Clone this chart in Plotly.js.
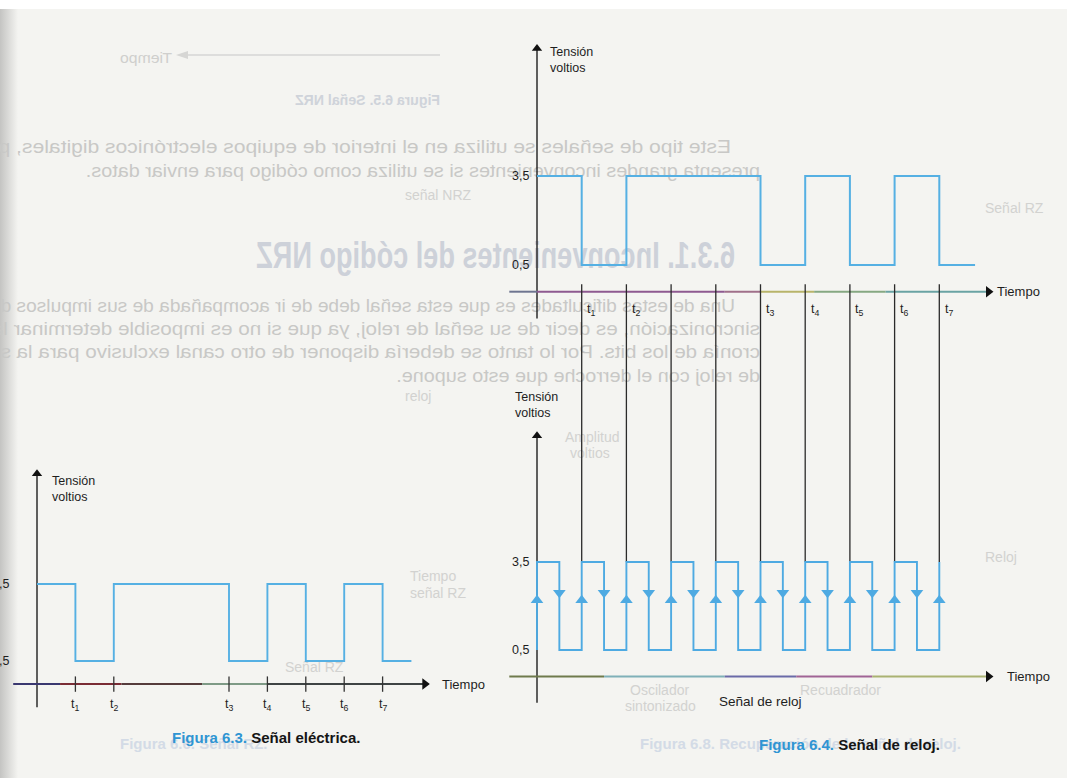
<!DOCTYPE html>
<html><head><meta charset="utf-8">
<script src="https://cdn.plot.ly/plotly-3.0.1.min.js"></script>
<style>
html,body{margin:0;padding:0;background:#f4f4f1;width:1067px;height:778px;overflow:hidden;}
#bg{position:absolute;left:0;top:0;width:1067px;height:778px;z-index:0;}
#plot{position:absolute;left:0;top:0;width:1067px;height:778px;z-index:2;}
</style></head><body>
<svg id="bg" width="1067" height="778" xmlns="http://www.w3.org/2000/svg"></svg>
<div id="plot"></div>
<script>
// ---------------- DATA ----------------
const BITS = [1, 0, 1, 1, 1, 0, 1, 0, 1, 0];          // NRZ bit levels per period
const BIT_TIMES = [0, 1, 2, 3, 4, 5, 6, 7, 8, 9];     // start of each bit period
const SIGNAL_END_63 = 9.75;                           // Fig 6.3 signal end
const SIGNAL_END_64 = 9.8;                            // Fig 6.4 signal end
const HIGH = 3.5, LOW = 0.5;                          // volts
const TICK_TIMES = [1, 2, 5, 6, 7, 8, 9];
const TICK_LABELS = ['t<sub>1</sub>', 't<sub>2</sub>', 't<sub>3</sub>', 't<sub>4</sub>', 't<sub>5</sub>', 't<sub>6</sub>', 't<sub>7</sub>'];
const GUIDE_TIMES = [1, 2, 3, 4, 5, 6, 7, 8, 9];      // vertical guide lines of Fig 6.4
const CLOCK_RISE = [0, 1, 2, 3, 4, 5, 6, 7, 8, 9];
const CLOCK_FALL = [0.5, 1.5, 2.5, 3.5, 4.5, 5.5, 6.5, 7.5, 8.5];
const Y_TICK_VALUES = [3.5, 0.5];
const Y_TICK_LABELS = ['3,5', '0,5'];

// ---------------- LAYOUT HELPERS ----------------
const W = 1067, H = 778;
function xRange(pxA, vA, pxB, vB) { const s = (pxB - pxA) / (vB - vA); return [vA + (0 - pxA) / s, vA + (W - pxA) / s]; }
function yRange(pxA, vA, pxB, vB) { const s = (pxB - pxA) / (vB - vA); return [vA + (H - pxA) / s, vA + (0 - pxA) / s]; }
const X1R = xRange(37, 0, 75.4, 1);        // Fig 6.3 time
const Y1R = yRange(584, 3.5, 661, 0.5);    // Fig 6.3 volts
const X2R = xRange(537, 0, 581.7, 1);      // Fig 6.4 time
const Y2R = yRange(176, 3.5, 265, 0.5);    // Fig 6.4 upper
const Y3R = yRange(562, 3.5, 650, 0.5);    // Fig 6.4 clock
function vToPx(r, v) { return H * (1 - (v - r[0]) / (r[1] - r[0])); }
function pxToV(r, p) { return r[0] + (1 - p / H) * (r[1] - r[0]); }

const BLUE = '#55b0e3', CLOCKBLUE = '#4eaae2', INK = '#1e1e1e';
const FONT = 'Liberation Sans, Arial, sans-serif';
const AXIS_V = -0.4, YAX_BOT = -1.3, YAX_TOP = 7.8, TAX_START = -0.62, TAX_END = 10.1;

// ---------------- BUILDERS ----------------
function nrz(end) {
  const x = [], y = [];
  BITS.forEach((b, i) => {
    const lv = b ? HIGH : LOW;
    const t1 = i < BITS.length - 1 ? BIT_TIMES[i + 1] : end;
    x.push(BIT_TIMES[i], t1); y.push(lv, lv);
  });
  return {x, y};
}
function clock() {
  const x = [], y = [];
  CLOCK_RISE.forEach((r, k) => {
    x.push(r, r); y.push(LOW, HIGH);
    if (k < CLOCK_FALL.length) { x.push(CLOCK_FALL[k], CLOCK_FALL[k]); y.push(HIGH, LOW); }
  });
  return {x, y};
}
const traces = [];
function line(xa, ya, x, y, color, width) {
  traces.push({type: 'scatter', mode: 'lines', xaxis: xa, yaxis: ya, x, y, hoverinfo: 'skip',
    line: {color, width, shape: 'linear', simplify: false}, showlegend: false, cliponaxis: false});
}
function marker(xa, ya, x, y, symbol, color, size) {
  traces.push({type: 'scatter', mode: 'markers', xaxis: xa, yaxis: ya, x, y, hoverinfo: 'skip',
    marker: {symbol, color, size, line: {width: 0}}, showlegend: false, cliponaxis: false});
}
function timeAxis(xa, ya, segs) {
  segs.forEach(s => line(xa, ya, [s[0], s[1]], [AXIS_V, AXIS_V], s[2], 2));
  marker(xa, ya, [TAX_END], [AXIS_V], 'triangle-right', '#111', 10);
}
function yAxis(xa, ya) {
  line(xa, ya, [0, 0], [YAX_BOT, YAX_TOP], INK, 1.4);
  marker(xa, ya, [0], [YAX_TOP], 'triangle-up', '#111', 9);
}

// ---- Fig 6.3 ----
yAxis('x', 'y');
timeAxis('x', 'y', [[TAX_START, 0.6, '#3a3870'], [0.6, 2.2, '#7a2c35'], [2.2, 4.3, '#553c3c'], [4.3, 6.0, '#7e9a86'], [6.0, TAX_END, '#3e4444']]);
{
  const tx = [], ty = [];
  TICK_TIMES.forEach(t => { tx.push(t, t, null); ty.push(AXIS_V + 0.3, AXIS_V - 0.3, null); });
  line('x', 'y', tx, ty, '#333', 1.3);
  const s = nrz(SIGNAL_END_63);
  line('x', 'y', s.x, s.y, BLUE, 1.9);
}

// ---- Fig 6.4 upper ----
yAxis('x2', 'y2');
timeAxis('x2', 'y2', [[TAX_START, 0, '#6e7590'], [0, 4.2, '#8e5a90'], [4.2, 5.0, '#a0708a'], [5.0, 6.2, '#b8b46a'], [6.2, 7.8, '#86a882'], [7.8, TAX_END, '#6aa3a3']]);
{
  const s = nrz(SIGNAL_END_64);
  line('x2', 'y2', s.x, s.y, BLUE, 2);
}
// guide lines: from just above upper time axis down to the clock high level
{
  const topV3 = pxToV(Y3R, vToPx(Y2R, AXIS_V + 0.25));
  const gx = [], gy = [];
  GUIDE_TIMES.forEach(t => { gx.push(t, t, null); gy.push(topV3, HIGH, null); });
  line('x2', 'y3', gx, gy, '#2a2a2a', 1.3);
}
// ---- Fig 6.4 clock ----
yAxis('x2', 'y3');
timeAxis('x2', 'y3', [[TAX_START, 1.5, '#6f7a4c'], [1.5, 4.2, '#7fb0b8'], [4.2, 5.8, '#6a6aa8'], [5.8, 7.5, '#a06495'], [7.5, TAX_END, '#aab272']]);
{
  const c = clock();
  line('x2', 'y3', c.x, c.y, CLOCKBLUE, 1.9);
  marker('x2', 'y3', CLOCK_RISE, CLOCK_RISE.map(() => 2.2), 'triangle-up', CLOCKBLUE, 11);
  marker('x2', 'y3', CLOCK_FALL, CLOCK_FALL.map(() => 2.45), 'triangle-down', CLOCKBLUE, 11);
}

// ---------------- ANNOTATIONS ----------------
const ann = [];
function txt(xref, yref, x, y, text, xanchor, size) {
  ann.push({xref, yref, x, y, text, xanchor, yanchor: 'middle', showarrow: false,
    font: {family: FONT, size: size || 12.5, color: INK}, align: 'left'});
}
// Fig 6.3
txt('x', 'y', 0.34, 7.2, 'Tensión<br>voltios', 'left', 12.5);
Y_TICK_VALUES.forEach((v, i) => txt('x', 'y', -0.68, v, Y_TICK_LABELS[i], 'right', 12.5));
TICK_TIMES.forEach((t, i) => txt('x', 'y', t, -1.21, TICK_LABELS[i], 'center', 12.5));
txt('x', 'y', 10.5, AXIS_V, 'Tiempo', 'left', 13);
// Fig 6.4 upper
txt('x2', 'y2', 0.25, 7.41, 'Tensión<br>voltios', 'left', 12.5);
Y_TICK_VALUES.forEach((v, i) => txt('x2', 'y2', -0.13, v, Y_TICK_LABELS[i], 'right', 12.5));
TICK_TIMES.forEach((t, i) => txt('x2', 'y2', t + 0.08, -1.02, TICK_LABELS[i], 'left', 12.5));
txt('x2', 'y2', 10.25, AXIS_V, 'Tiempo', 'left', 13);
// Fig 6.4 clock
txt('x2', 'y3', -0.54, 8.85, 'Tensión<br>voltios', 'left', 12.5);
Y_TICK_VALUES.forEach((v, i) => txt('x2', 'y3', -0.13, v, Y_TICK_LABELS[i], 'right', 12.5));
txt('x2', 'y3', 10.47, AXIS_V, 'Tiempo', 'left', 13);
txt('x2', 'y3', 4.99, -1.27, 'Señal de reloj', 'center', 13.5);
// captions
const CAP = 'Liberation Sans Narrow, Arial Narrow, sans-serif';
ann.push({xref: 'paper', yref: 'paper', x: 170 / W, y: 1 - 737 / H, xanchor: 'left', yanchor: 'middle', showarrow: false,
  text: '<b><span style="color:#2f95d3">Figura 6.3.</span> Señal eléctrica.</b>', font: {family: CAP, size: 15, color: '#151515'}});
ann.push({xref: 'paper', yref: 'paper', x: 757 / W, y: 1 - 744 / H, xanchor: 'left', yanchor: 'middle', showarrow: false,
  text: '<b><span style="color:#2f95d3">Figura 6.4.</span> Señal de reloj.</b>', font: {family: CAP, size: 15, color: '#151515'}});

const ax = (r, extra) => Object.assign({range: r, visible: false, fixedrange: true, domain: [0, 1]}, extra || {});
const layout = {
  width: W, height: H, margin: {l: 0, r: 0, t: 0, b: 0},
  paper_bgcolor: 'rgba(0,0,0,0)', plot_bgcolor: 'rgba(0,0,0,0)',
  xaxis: ax(X1R), yaxis: ax(Y1R),
  xaxis2: ax(X2R, {overlaying: 'x'}),
  yaxis2: ax(Y2R, {overlaying: 'y'}), yaxis3: ax(Y3R, {overlaying: 'y'}),
  annotations: ann, showlegend: false, hovermode: false
};
Plotly.newPlot('plot', traces, layout, {staticPlot: true, displayModeBar: false});

// ---------------- PAGE BACKGROUND (scan texture, show-through from the reverse page) ----------------
const NS = 'http://www.w3.org/2000/svg';
const bg = document.getElementById('bg');
function el(tag, attrs, parent, content) {
  const e = document.createElementNS(NS, tag);
  for (const k in attrs) e.setAttribute(k, attrs[k]);
  if (content) e.textContent = content;
  (parent || bg).appendChild(e); return e;
}
const defs = el('defs', {});
const g1 = el('linearGradient', {id: 'lg', x1: 0, x2: 1, y1: 0, y2: 0}, defs);
el('stop', {offset: '0', 'stop-color': '#c4c4c2'}, g1);
el('stop', {offset: '1', 'stop-color': '#f4f4f1'}, g1);
el('rect', {x: 0, y: 0, width: W, height: H, fill: '#f4f4f1'});
el('rect', {x: 0, y: 0, width: 18, height: H, fill: 'url(#lg)'});
el('rect', {x: 0, y: 0, width: W, height: 9, fill: '#ffffff'});
const mir = el('g', {transform: 'scale(-1,1)'});
function mtext(right, yc, s, size, color, perChar, weight, len) {
  el('text', {x: -right, y: yc + size * 0.35, 'font-family': CAP, 'font-size': size, fill: color,
    'font-weight': weight || 'normal', textLength: len || s.length * perChar, lengthAdjust: 'spacingAndGlyphs'}, mir, s);
}
const PC = '#c8c8c6';
mtext(731, 146, 'Este tipo de señales se utiliza en el interior de equipos electrónicos digitales, pero', 19, PC, 8.87);
mtext(760, 170, 'presenta grandes inconvenientes si se utiliza como código para enviar datos.', 19, PC, 8.87);
mtext(735, 255, '6.3.1. Inconvenientes del código NRZ', 36, '#cdd1d9', 13.3, 'bold');
mtext(735, 305, 'Una de estas dificultades es que esta señal debe de ir acompañada de sus impulsos de', 19, PC, 8.87);
mtext(760, 328, 'sincronización, es decir de su señal de reloj, ya que si no es imposible determinar la sin-', 19, PC, 8.87);
mtext(760, 351, 'cronía de los bits. Por lo tanto se debería disponer de otro canal exclusivo para la señal', 19, PC, 8.87);
mtext(760, 375, 'de reloj con el derroche que esto supone.', 19, PC, 8.87);
mtext(172, 58, 'Tiempo', 14, '#cfcfcd', 0, 'normal', 52);
mtext(440, 100, 'Figura 6.5. Señal NRZ', 14, '#cfd3da', 0, 'bold', 145);
el('line', {x1: 185, y1: 55, x2: 440, y2: 55, stroke: '#d6d6d4', 'stroke-width': 1.5});
el('path', {d: 'M176,55 L188,51 L188,59 Z', fill: '#d6d6d4'});
const FT = '#d2d2d0';
[[985, 208, 'Señal RZ'], [985, 557, 'Reloj'], [405, 195, 'señal NRZ'], [410, 576, 'Tiempo'], [410, 593, 'señal RZ'],
 [285, 667, 'Señal RZ'], [630, 690, 'Oscilador'], [625, 706, 'sintonizado'], [800, 690, 'Recuadrador'], [565, 437, 'Amplitud'],
 [570, 453, 'voltios'], [405, 396, 'reloj']].forEach(a =>
  el('text', {x: a[0], y: a[1] + 5, 'font-family': FONT, 'font-size': 14, fill: FT}, bg, a[2]));
el('text', {x: 640, y: 749, 'font-family': CAP, 'font-size': 15, 'font-weight': 'bold', fill: '#d3dbe6'}, bg, 'Figura 6.8. Recuperación de la señal de reloj.');
el('text', {x: 120, y: 749, 'font-family': CAP, 'font-size': 15, 'font-weight': 'bold', fill: '#d3dbe6'}, bg, 'Figura 6.6. Señal RZ.');
</script>
</body></html>
